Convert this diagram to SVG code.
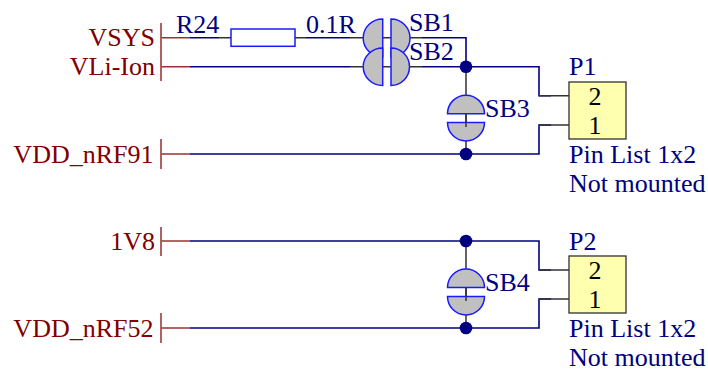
<svg xmlns="http://www.w3.org/2000/svg" width="708" height="372" viewBox="0 0 708 372">
<style>
text{font-family:"Liberation Serif","Times New Roman",serif;font-size:26px}
.n{fill:#000080}.r{fill:#800000}.k{fill:#000}
.w{stroke:#000080;stroke-width:1.6;fill:none}
.p{stroke:#333;stroke-width:1.5;fill:none}
.pr{stroke:#a03030;stroke-width:1.5;fill:none}
.b{stroke:#a85050;stroke-width:1.8;fill:none}
.s{fill:#c0c0c0;stroke:#1a1aff;stroke-width:1.5}
.j{fill:#000080}
.box{fill:#ffffb0;stroke:#303030;stroke-width:1.3}
.a{text-anchor:end}.m{text-anchor:middle}
</style>
<g id="connectors">
<path class="w" d="M190 37.7H219M306 37.7H350M422 37.7H466V66.7M190 66.7H350M422 66.7H539V95.7H551M190 154H539V125H551M190 241H539V270H551M190 328H539V299H551"/>
<path class="p" d="M219 37.7H231M295 37.7H306M350 37.7H422M350 66.7H422M466 66.7V154M466 241V328M539 95.7H569M539 125H569M539 270H569M539 299H569"/>
<path class="pr" d="M161 37.7H190M161 66.7H190M161 154H190M161 241H190M161 328H190"/>
<circle class="j" cx="466" cy="66.7" r="6.3"/>
<circle class="j" cx="466" cy="154" r="6.3"/>
<circle class="j" cx="466" cy="241" r="6.3"/>
<circle class="j" cx="466" cy="328" r="6.3"/>
</g>
<g id="port-VSYS"><path class="b" d="M161 23V81"/><text class="r a" x="155" y="46">VSYS</text><text class="r a" x="155" y="75">VLi-Ion</text></g>
<g id="port-VDD_nRF91"><path class="b" d="M161 139V169"/><text class="r a" x="153.5" y="163">VDD_nRF91</text></g>
<g id="port-1V8"><path class="b" d="M161 227V256"/><text class="r a" x="155" y="250">1V8</text></g>
<g id="port-VDD_nRF52"><path class="b" d="M161 313V343"/><text class="r a" x="153.5" y="337">VDD_nRF52</text></g>
<g id="R24"><rect x="231" y="29" width="64" height="17.3" fill="#fff" stroke="#1a1aff" stroke-width="1.5"/><text class="n" x="176" y="33">R24</text><text class="n" x="306" y="33">0.1R</text></g>
<g id="SB1"><path class="s" d="M382.7 19A19.5 19 0 0 0 382.7 57Z"/><path class="s" d="M391 19A19 19 0 0 1 391 57Z"/></g>
<g id="SB2"><path class="s" d="M382.7 48A19.5 18.7 0 0 0 382.7 85.4Z"/><path class="s" d="M391 48A18.5 18.7 0 0 1 391 85.4Z"/></g>
<g id="SB1-SB2-labels"><text class="n" x="409" y="31">SB1</text><text class="n" x="409" y="60">SB2</text></g>
<g id="SB3"><path class="s" d="M447.5 113.7A18.5 18.5 0 0 1 484.5 113.7Z"/><path class="s" d="M447.5 122.5A18.5 18.5 0 0 0 484.5 122.5Z"/><path class="p" d="M466 113.7V127"/><text class="n" x="485" y="117">SB3</text></g>
<g id="SB4"><path class="s" d="M447.5 287.5A18.5 18.5 0 0 1 484.5 287.5Z"/><path class="s" d="M447.5 296.5A18.5 18.5 0 0 0 484.5 296.5Z"/><path class="p" d="M466 287.5V301"/><text class="n" x="485" y="291">SB4</text></g>
<g id="P1"><rect class="box" x="569" y="82" width="57" height="57"/><text class="k m" x="595" y="105">2</text><text class="k m" x="595" y="134">1</text><text class="n" x="569" y="75">P1</text><text class="n" x="569" y="163">Pin List 1x2</text><text class="n" x="569" y="192">Not mounted</text></g>
<g id="P2"><rect class="box" x="569" y="256" width="57" height="57"/><text class="k m" x="595" y="279">2</text><text class="k m" x="595" y="308">1</text><text class="n" x="569" y="250">P2</text><text class="n" x="569" y="337">Pin List 1x2</text><text class="n" x="569" y="366">Not mounted</text></g>
</svg>
